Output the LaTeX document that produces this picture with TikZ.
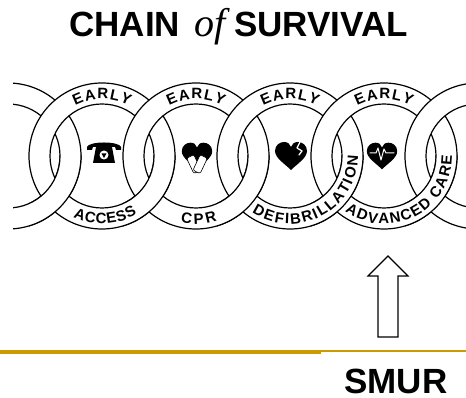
\documentclass[tikz,border=0pt]{standalone}
\usepackage{fontspec}
\setmainfont{Liberation Sans}
\newfontfamily\offont{Liberation Serif}
\usetikzlibrary{decorations.text}

\definecolor{rulegold}{RGB}{204,153,0}

\newcommand{\linkfont}{\fontsize{15}{15}\selectfont\bfseries}

% one link of the chain: a white band between two circles
\newcommand{\chainlink}[1]{%
  \fill[white, even odd rule] (#1) circle[radius=73pt] (#1) circle[radius=52pt];
  \draw[linkline] (#1) circle[radius=73pt] (#1) circle[radius=52pt];
}
% lettering on the band, top (clockwise) and bottom (counter clockwise)
\newcommand{\toplabel}[2]{%
  \path[decorate, decoration={text along path, text={|\linkfont|#2},
        text align={fit to path}}]
    (#1) ++(118:57pt) arc[start angle=118, end angle=62, radius=57pt];
}
\newcommand{\botlabel}[4]{%
  \path[decorate, decoration={text along path, text={|\linkfont|#4},
        text align={fit to path}}]
    (#1) ++(#2:68pt) arc[start angle=#2, end angle=#3, radius=68pt];
}

\tikzset{
  heartshape/.pic={
    \fill (0,-14) .. controls (-6,-8) and (-16,-2) .. (-16,5)
          .. controls (-16,11) and (-11,14) .. (-7,14)
          .. controls (-3,14) and (-1,12) .. (0,9)
          .. controls (1,12) and (3,14) .. (7,14)
          .. controls (11,14) and (16,11) .. (16,5)
          .. controls (16,-2) and (6,-8) .. (0,-14) -- cycle;
  },
  phoneicon/.pic={
    % handset
    \fill (-17,3) -- (-17,6) .. controls (-15,12) and (15,12) .. (17,6)
          -- (17,3) -- (12,3) -- (11,6) -- (-11,6) -- (-12,3) -- cycle;
    % base
    \fill (-8,6) -- (8,6) -- (11,-10) -- (-11,-10) -- cycle;
    \fill[white] (0,-2) circle[radius=4.5pt];
    \fill (0,-5) -- (-2.5,-0.5) -- (2.5,-0.5) -- cycle;
  }
}

\begin{document}
\begin{tikzpicture}[
    x=1pt, y=1pt,
    linkline/.style={line width=1.2pt},
    sketch/.style={white, line width=1.3pt, line join=round, line cap=round},
    title/.style={font=\fontsize{35}{35}\selectfont\bfseries, inner sep=0pt},
  ]
  \useasboundingbox (0,0) rectangle (466,398);

  % link centres
  \foreach \i in {0,...,5}
    \coordinate (c\i) at (8+94*\i, 242);

  \begin{scope}
    \clip (13,0) rectangle (466,398);
    \foreach \i in {0,...,5} {
      \chainlink{c\i}
    }
    % lower crossings: the left link passes over
    \foreach \i in {0,...,4} {
      \begin{scope}
        \clip (8+94*\i+21, 242) rectangle (8+94*\i+74, 160);
        \chainlink{c\i}
      \end{scope}
    }
  \end{scope}

  % band lettering
  \foreach \i in {1,...,4} {
    \toplabel{c\i}{EARLY}
  }
  \botlabel{c1}{245}{301}{ACCESS}
  \botlabel{c2}{257}{288}{CPR}
  \botlabel{c3}{236}{360}{DEFIBRILLATION}
  \botlabel{c4}{235}{360}{ADVANCED CARE}

  % icons
  \pic at (104,245) {phoneicon};
  \begin{scope}[shift={(197,242)}]
    \pic[scale=0.95] {heartshape};
    \foreach \a in {25,-25}
      \filldraw[fill=white, line width=0.6pt, rounded corners=2pt,
                rotate around={\a:(0,-15)}] (-4,-16) rectangle (4,1);
  \end{scope}
  \begin{scope}[shift={(291,242)}]
    \pic {heartshape};
    \draw[sketch] (9,14) -- (6,8) -- (11,5) -- (8,1);
  \end{scope}
  \begin{scope}[shift={(382,242)}]
    \pic[scale=0.95] {heartshape};
    \draw[sketch, line width=1pt] (-12,3) -- (-6,3) -- (-4,8) -- (-1,-4)
      -- (2,7) -- (4,3) -- (12,3);
  \end{scope}

  % hollow up arrow
  \draw[line width=1.2pt, line join=miter]
    (378,61) -- (378,122) -- (368,122) -- (388,142) -- (408,122)
    -- (398,122) -- (398,61) -- cycle;

  % rule
  \fill[rulegold] (0,44) rectangle (321,47.5);
  \fill[rulegold] (321,46.3) rectangle (466,47.6);

  \node[title, anchor=base west] (heading) at (69,361)
    {CHAIN\hspace{14pt}{\fontsize{40}{40}\selectfont\offont\itshape\mdseries of}\hspace{9pt}SURVIVAL};
  \node[title, anchor=base] (smur) at (396,4) {SMUR};
\end{tikzpicture}
\end{document}
